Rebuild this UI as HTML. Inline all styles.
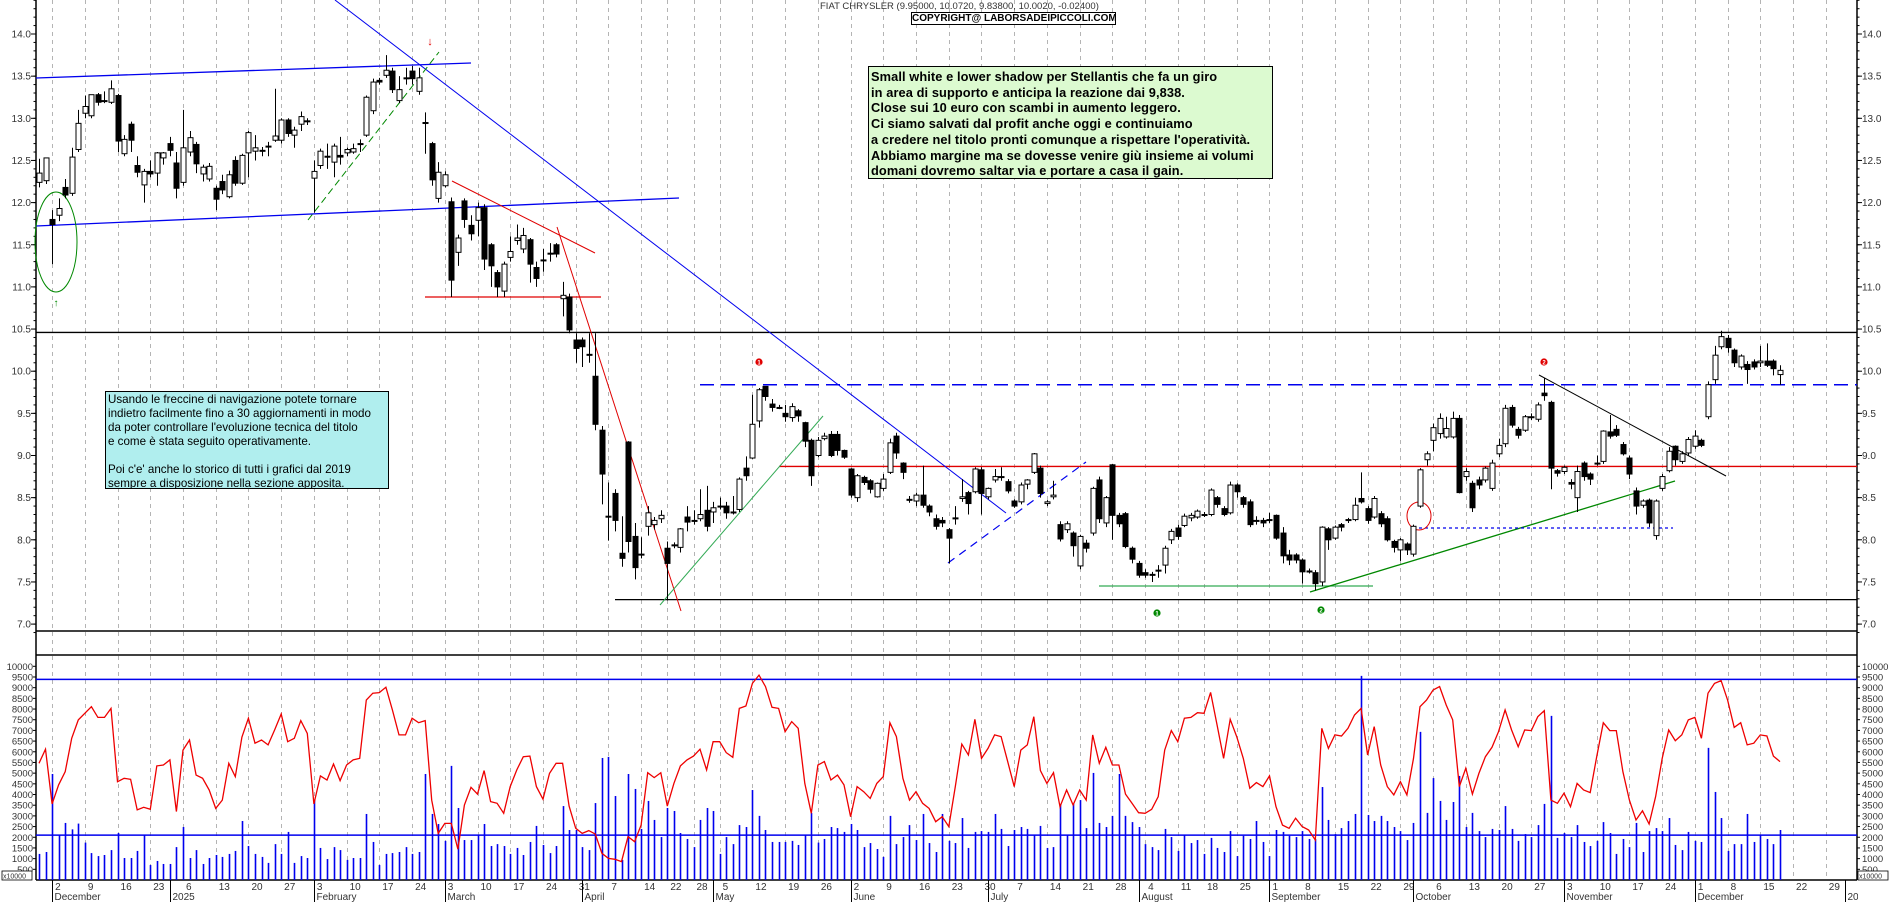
<!DOCTYPE html>
<html><head><meta charset="utf-8"><style>
html,body{margin:0;padding:0;background:#fff;font-family:"Liberation Sans",Arial,sans-serif;}
svg{display:block;font-family:"Liberation Sans",Arial,sans-serif;}
.box{position:absolute;border:1.5px solid #000;font-family:"Liberation Sans",Arial,sans-serif;color:#000;overflow:hidden;box-sizing:border-box;}
</style></head><body>
<div style="position:relative;width:1890px;height:902px;overflow:hidden;font-family:'Liberation Sans',Arial,sans-serif">
<svg id="c" width="1890" height="902" viewBox="0 0 1890 902"></svg>
<div class="box" style="left:868px;top:66px;width:405px;height:113px;background:#dcfad0;font-weight:bold;font-size:12.8px;line-height:15.7px;padding:2px 0 0 2px;white-space:nowrap;letter-spacing:0.1px">Small white e lower shadow per Stellantis che fa un giro<br>in area di supporto e anticipa la reazione dai 9,838.<br>Close sui 10 euro con scambi in aumento leggero.<br>Ci siamo salvati dal profit anche oggi e continuiamo<br>a credere nel titolo pronti comunque a rispettare l'operatività.<br>Abbiamo margine ma se dovesse venire giù insieme ai volumi<br>domani dovremo saltar via e portare a casa il gain.</div>
<div class="box" style="left:105px;top:391px;width:284px;height:98px;background:#b0eeee;font-size:11.6px;line-height:14px;padding:1px 0 0 2px;white-space:nowrap">Usando le freccine di navigazione potete tornare<br>indietro facilmente fino a 30 aggiornamenti in modo<br>da poter controllare l'evoluzione tecnica del titolo<br>e come è stata seguito operativamente.<br><br>Poi c'e' anche lo storico di tutti i grafici dal 2019<br>sempre a disposizione nella sezione apposita.</div>
<div style="position:absolute;left:820px;top:1px;font-size:9.5px;color:#333;white-space:nowrap;font-family:'Liberation Sans',Arial,sans-serif">FIAT CHRYSLER (9.95000, 10.0720, 9.83800, 10.0020, -0.02400)</div>
<div class="box" style="left:911px;top:12px;width:205px;height:13px;border-width:1px;background:#fff;font-size:10px;font-weight:bold;line-height:11px;text-align:center;white-space:nowrap">COPYRIGHT@ LABORSADEIPICCOLI.COM</div>
</div>
<script>
const openP=[12.24,12.26,11.80,11.85,12.18,12.11,12.63,13.06,13.03,13.28,13.21,13.19,13.27,12.58,12.93,12.44,12.21,12.37,12.35,12.53,12.70,12.47,12.24,12.60,12.69,12.34,12.28,12.17,12.25,12.07,12.50,12.23,12.59,12.61,12.62,12.67,12.74,12.74,12.98,12.80,12.93,12.97,12.29,12.44,12.55,12.48,12.56,12.59,12.60,12.70,12.80,13.09,13.45,13.51,13.56,13.21,13.48,13.56,13.32,12.95,12.70,12.05,12.20,12.01,11.41,12.02,11.73,11.79,11.94,11.50,11.17,10.95,11.35,11.55,11.45,11.56,11.23,11.32,11.40,11.50,10.86,10.88,10.37,10.37,10.20,9.94,9.30,8.28,8.55,7.84,9.16,8.04,7.83,8.16,8.18,8.25,7.90,7.94,7.91,8.27,8.23,8.25,8.35,8.33,8.40,8.40,8.33,8.36,8.85,8.97,9.41,9.82,9.61,9.57,9.50,9.45,9.53,9.39,9.18,9.00,9.20,9.25,9.25,9.06,8.84,8.50,8.74,8.70,8.51,8.61,8.80,9.23,8.91,8.48,8.46,8.53,8.40,8.25,8.23,8.12,8.26,8.49,8.56,8.57,8.83,8.51,8.71,8.75,8.69,8.46,8.45,8.66,8.80,8.85,8.43,8.51,8.18,8.12,8.08,7.69,7.96,8.08,8.71,8.20,8.89,8.29,8.31,7.90,7.72,7.61,7.59,7.64,7.70,8.00,8.14,8.17,8.26,8.27,8.30,8.30,8.50,8.37,8.32,8.65,8.50,8.45,8.23,8.23,8.24,8.29,8.08,7.82,7.82,7.76,7.63,7.61,7.50,8.13,8.02,8.18,8.23,8.24,8.49,8.37,8.27,8.31,8.25,7.98,7.88,7.95,7.83,8.40,8.95,9.18,9.26,9.22,9.22,9.44,8.75,8.67,8.71,8.71,8.61,9.02,9.14,9.57,9.31,9.30,9.46,9.43,9.74,9.63,8.82,8.81,8.68,8.50,8.91,8.78,8.90,8.93,9.28,9.31,9.13,8.97,8.58,8.41,8.47,8.05,8.61,8.82,9.11,8.93,9.03,9.11,9.18,9.46,9.90,10.29,10.39,10.25,10.05,10.08,10.11,10.10,10.12,10.12,9.96];
const closeP=[12.35,12.53,11.74,11.93,12.09,12.54,12.94,13.14,13.28,13.19,13.21,13.35,12.73,12.75,12.74,12.36,12.37,12.34,12.59,12.59,12.62,12.17,12.65,12.77,12.46,12.42,12.43,12.04,12.15,12.33,12.23,12.56,12.83,12.65,12.62,12.66,12.79,12.98,12.82,12.86,13.02,12.96,12.37,12.61,12.54,12.67,12.54,12.63,12.64,12.69,13.25,13.43,13.43,13.57,13.34,13.34,13.47,13.47,13.48,12.94,12.27,12.36,12.33,11.08,11.58,11.80,11.63,11.94,11.33,11.25,11.00,11.27,11.42,11.58,11.61,11.27,11.10,11.32,11.40,11.39,10.90,10.49,10.27,10.29,10.20,9.37,8.78,8.28,8.23,7.78,7.98,7.67,7.83,8.32,8.23,8.29,7.72,7.94,8.13,8.21,8.23,8.30,8.16,8.38,8.40,8.32,8.33,8.72,8.76,9.37,9.78,9.70,9.57,9.57,9.46,9.58,9.47,9.17,8.76,9.18,9.23,9.00,9.06,8.98,8.53,8.76,8.68,8.60,8.67,8.72,9.15,9.03,8.80,8.48,8.53,8.41,8.33,8.16,8.20,8.02,8.26,8.51,8.43,8.84,8.55,8.61,8.75,8.75,8.58,8.40,8.65,8.71,9.02,8.55,8.45,8.53,8.01,8.19,7.93,8.04,7.90,8.61,8.25,8.50,8.29,8.19,7.92,7.77,7.58,7.58,7.59,7.64,7.90,8.10,8.04,8.28,8.29,8.34,8.30,8.59,8.42,8.30,8.65,8.57,8.42,8.18,8.23,8.20,8.24,8.02,7.81,7.76,7.76,7.62,7.63,7.48,8.15,8.00,8.15,8.15,8.24,8.41,8.45,8.23,8.49,8.19,8.00,7.91,8.00,7.88,8.16,8.83,9.02,9.33,9.44,9.32,9.44,8.56,8.81,8.38,8.65,8.85,8.91,9.12,9.56,9.36,9.24,9.46,9.46,9.60,9.71,8.85,8.79,8.86,8.66,8.81,8.75,8.72,8.91,9.29,9.23,9.24,9.02,8.78,8.40,8.46,8.20,8.46,8.75,9.05,8.95,9.02,9.19,9.23,9.12,9.84,10.19,10.41,10.28,10.10,10.18,10.02,10.05,10.12,10.07,10.03,10.01];
const highP=[12.52,12.53,11.91,12.05,12.28,12.65,13.10,13.27,13.28,13.30,13.32,13.45,13.29,12.80,12.96,12.55,12.40,12.50,12.60,12.60,12.78,12.60,13.10,12.85,12.72,12.45,12.47,12.20,12.33,12.38,12.55,12.58,12.85,12.80,12.66,12.72,13.35,13.00,13.00,12.90,13.08,13.00,12.50,12.64,12.70,12.70,12.78,12.65,12.70,12.75,13.27,13.47,13.48,13.75,13.60,13.50,13.60,13.62,13.60,13.07,12.72,12.48,12.37,12.06,11.62,12.05,11.85,12.00,11.98,11.52,11.20,11.30,11.60,11.74,11.70,11.58,11.30,11.45,11.52,11.52,11.06,10.92,10.45,10.40,10.45,10.45,9.35,8.68,8.60,8.28,9.17,8.20,8.03,8.40,8.27,8.35,7.98,7.97,8.14,8.40,8.35,8.60,8.64,8.45,8.50,8.45,8.52,8.74,8.99,9.72,9.80,9.82,9.67,9.60,9.60,9.62,9.55,9.40,9.20,9.22,9.27,9.29,9.29,9.07,8.85,8.78,8.76,8.72,8.68,8.78,9.20,9.27,8.92,8.52,8.56,8.88,8.42,8.30,8.27,8.14,8.40,8.72,8.58,8.86,8.86,8.62,8.84,8.86,8.72,8.48,8.68,8.72,9.03,8.88,8.47,8.70,8.22,8.22,8.10,8.06,8.00,8.63,8.75,8.52,8.90,8.32,8.33,7.92,7.75,7.65,7.62,7.70,7.93,8.13,8.18,8.31,8.32,8.36,8.33,8.61,8.52,8.40,8.69,8.67,8.52,8.48,8.28,8.26,8.32,8.30,8.15,7.88,7.84,7.78,7.66,7.64,8.16,8.15,8.17,8.20,8.26,8.50,8.80,8.40,8.52,8.34,8.28,8.00,8.02,7.97,8.18,8.85,9.05,9.38,9.50,9.46,9.52,9.48,8.85,8.70,8.75,8.87,8.95,9.20,9.60,9.60,9.34,9.48,9.50,9.63,9.92,9.65,8.84,8.88,8.72,8.88,8.93,8.80,9.00,9.30,9.48,9.36,9.16,9.00,8.62,8.48,8.49,8.48,8.78,9.10,9.12,9.05,9.22,9.30,9.20,9.88,10.30,10.48,10.43,10.27,10.20,10.12,10.14,10.30,10.33,10.14,10.07];
const lowP=[12.18,12.22,11.27,11.78,12.05,12.08,12.60,13.00,13.00,13.15,13.18,13.17,12.60,12.55,12.60,12.30,12.00,12.30,12.20,12.45,12.55,12.05,12.20,12.55,12.35,12.25,12.25,11.91,12.10,12.05,12.20,12.21,12.30,12.50,12.55,12.55,12.72,12.70,12.78,12.65,12.85,12.92,11.88,12.40,12.40,12.30,12.45,12.55,12.58,12.60,12.78,13.05,13.40,13.48,13.30,13.18,13.40,13.40,13.28,12.58,12.20,12.00,12.18,10.88,11.25,11.70,11.55,11.60,11.20,11.00,10.88,10.88,11.30,11.50,11.40,11.05,11.00,11.18,11.30,11.35,10.65,10.45,10.10,10.05,10.10,9.30,8.42,7.99,8.10,7.68,7.85,7.53,7.78,8.05,8.12,8.20,7.28,7.90,7.85,8.10,8.18,8.22,8.10,8.20,8.36,8.25,8.30,8.33,8.70,8.96,9.33,9.65,9.52,9.55,9.40,9.40,9.40,9.10,8.64,8.98,9.18,8.98,9.00,8.96,8.50,8.45,8.65,8.55,8.50,8.58,8.78,8.96,8.72,8.44,8.40,8.38,8.28,8.12,8.15,7.72,8.18,8.45,8.30,8.55,8.30,8.48,8.68,8.70,8.55,8.38,8.42,8.60,8.78,8.50,8.40,8.48,7.98,8.08,7.80,7.65,7.85,8.05,8.20,8.15,8.00,8.15,7.90,7.72,7.55,7.55,7.50,7.55,7.60,7.95,8.00,8.15,8.22,8.25,8.27,8.28,8.38,8.28,8.30,8.50,8.38,8.15,8.18,8.15,8.20,8.00,7.72,7.70,7.72,7.48,7.60,7.40,7.45,7.88,8.00,8.10,8.20,8.22,8.43,8.19,8.25,8.15,7.98,7.85,7.75,7.82,7.80,8.38,8.88,9.05,9.20,9.20,9.20,8.55,8.70,8.33,8.60,8.68,8.58,8.98,9.10,9.33,9.20,9.28,9.42,9.40,9.65,8.60,8.75,8.78,8.60,8.33,8.70,8.65,8.88,8.90,9.20,9.22,9.00,8.72,8.30,8.38,8.15,8.00,8.58,8.80,8.88,8.90,9.00,9.08,9.10,9.43,9.85,10.26,10.22,10.05,10.02,9.85,10.02,10.05,10.05,9.95,9.84];
const volume=[1220,1310,4960,2090,2670,2370,2640,1750,1260,1120,1170,1400,2200,1030,1030,1360,2090,700,890,750,750,1540,2480,1030,1400,750,1030,1170,1080,1220,1360,2760,1590,1220,1080,800,1680,1220,2250,800,1120,1030,3740,1500,980,1540,1400,940,1030,1030,3090,1780,700,1220,1260,1310,1540,1220,1310,4960,3090,2620,1830,5340,3370,1870,1870,2110,2620,1590,1680,1590,1220,1500,1170,1780,2530,1640,1260,1590,3460,2340,2340,1540,1400,3600,5710,5760,3930,940,4960,4260,2390,3700,2810,2010,3370,3230,2200,1920,1540,2810,3370,3230,1220,2010,1680,2570,2480,4210,3000,2340,1780,1780,1780,1830,1640,2110,3140,1750,1920,2480,2430,2250,2620,2340,1540,1730,1450,1080,3000,1680,2010,2570,1870,3090,1730,1310,3090,1830,1730,2900,1500,2250,2290,2250,3090,2390,1590,2340,2480,2390,2110,2530,1500,1540,3560,2110,3560,3740,2430,5010,2670,2480,3000,4960,3000,2710,2480,1680,1540,1400,2390,2010,1360,2110,1730,1870,1220,1970,1500,1310,2290,1120,2070,1920,2760,1780,1120,2340,2250,2070,2010,2290,1920,1920,4350,2810,2150,2430,2760,3090,9550,3040,2760,3000,2760,2480,2290,1870,2670,6930,3140,4770,3700,2810,3650,4870,2480,3140,2290,2010,2390,2340,3460,2390,1830,2150,2010,2570,3560,7680,1970,2200,2010,2570,1780,1590,1830,2710,2200,1220,1920,1540,2670,1310,2290,2430,2290,2900,1640,1400,2250,1830,1780,6180,4120,2900,1360,1680,1680,3090,1780,2110,1920,1680,2340];
const oscillator=[5460,6120,3560,4450,5070,6630,7490,7800,8110,7610,7610,8030,4600,4760,4710,3280,3400,3310,5340,5380,5620,3200,6080,6550,4910,4760,4210,3350,3740,5460,4840,6680,7570,6400,6550,6320,7020,7770,6470,6630,7460,6860,3560,4870,4680,5430,4650,5380,5620,5690,8420,8740,8770,9020,7960,6790,6790,7570,7360,7460,3740,2180,2650,2650,1440,3510,4340,4020,5120,3670,3590,3120,4370,5150,5770,5800,4370,3780,4990,5460,5460,3460,2420,2180,2310,2150,1250,1010,970,860,2030,1790,2570,5020,4790,5020,3460,4520,5340,5620,5800,6120,5150,6470,6470,5960,5740,8030,8140,9200,9590,9050,8080,8030,6940,7410,7100,4520,3120,5380,5540,4680,4910,4450,2960,4370,4130,3820,4520,4840,7360,6710,4760,3740,4130,3590,3350,2730,2960,2500,4370,6360,5850,7520,5690,6160,6790,6710,5540,4370,6080,6320,7640,5120,4520,5020,3430,4210,3510,4210,3740,6790,5460,6210,5380,5380,4020,3590,3150,3120,3310,3900,6080,6990,6470,7570,7610,7830,7800,8780,7250,5690,7520,6710,5690,4290,4560,4370,4870,3430,2570,2420,2890,2500,2340,1870,7100,6160,6790,6740,7100,7720,8030,5850,7180,5380,4370,3980,4600,3980,5690,8110,8420,8890,9050,8190,7490,4370,5230,4020,4990,5770,6210,6940,7960,7020,6240,7020,6990,7640,7920,3740,3590,4060,3430,4520,4210,4090,5770,7360,6990,6990,5070,3740,2810,3240,2620,3900,5690,7020,6520,6790,7490,7610,6630,8740,9200,9330,8420,7140,7360,6320,6400,6790,6740,5800,5540];
const priceTicks=[14.0,13.5,13.0,12.5,12.0,11.5,11.0,10.5,10.0,9.5,9.0,8.5,8.0,7.5,7.0];
const volTicks=[10000,9500,9000,8500,8000,7500,7000,6500,6000,5500,5000,4500,4000,3500,3000,2500,2000,1500,1000,500];
const weekIdx=[2,7,12,17,22,27,32,37,42,47,52,57,62,67,72,77,82,87,92,96,100,104,109,114,119,124,129,134,139,144,149,154,159,164,169,174,178,183,188,193,198,203,208,213,218,223,228,233,238,243,248,253,258,263,268,273];
const weekLabels=["2","9","16","23","6","13","20","27","3","10","17","24","3","10","17","24","31","7","14","22","28","5","12","19","26","2","9","16","23","30","7","14","21","28","4","11","18","25","1","8","15","22","29","6","13","20","27","3","10","17","24","1","8","15","22","29"];
const monthIdx=[2,20,42,62,83,103,124,145,168,188,210,233,253,276];
const monthLabels=["December","2025","February","March","April","May","June","July","August","September","October","November","December","20"];

const NS="http://www.w3.org/2000/svg";
const svg=document.getElementById('c');
const L=36,R=1857,STEP=6.545,X0=39;
const xs=i=>X0+i*STEP;
const yp=p=>34+(14-p)*84.3;
const yv=v=>880-v*0.02137;
function mk(tag,attrs,parent){const e=document.createElementNS(NS,tag);for(const k in attrs)e.setAttribute(k,attrs[k]);(parent||svg).appendChild(e);return e;}
function txt(s,x,y,attrs){const t=mk('text',Object.assign({x:x,y:y,'font-size':10,fill:'#333'},attrs||{}));t.textContent=s;return t;}

const grid=mk('g',{});


weekIdx.forEach(i=>{const x=Math.round(xs(i))+0.5;
  const l=mk('line',{x1:x,y1:0,x2:x,y2:880,stroke:'#b4b4b4','stroke-dasharray':'4,4','stroke-width':1},grid);
  
  });

mk('line',{x1:L,y1:0,x2:L,y2:880,stroke:'#000','stroke-width':1.5});
mk('line',{x1:R,y1:0,x2:R,y2:880,stroke:'#000','stroke-width':1.5});
mk('line',{x1:L,y1:631,x2:R,y2:631,stroke:'#000','stroke-width':1.5});
mk('line',{x1:L,y1:655,x2:R,y2:655,stroke:'#000','stroke-width':1.5});
mk('line',{x1:L,y1:880,x2:R,y2:880,stroke:'#000','stroke-width':1.5});

priceTicks.forEach(p=>{const y=yp(p);
  const a=txt(p.toFixed(1),31,y+3.5,{'text-anchor':'end'});
  const b=txt(p.toFixed(1),1862,y+3.5);
  mk('line',{x1:L-5,y1:y,x2:L,y2:y,stroke:'#000'});mk('line',{x1:R,y1:y,x2:R+5,y2:y,stroke:'#000'});});
for(let p=6.9;p<=14.4;p+=0.1){const y=yp(p);mk('line',{x1:L-2.5,y1:y,x2:L,y2:y,stroke:'#000'});mk('line',{x1:R,y1:y,x2:R+2.5,y2:y,stroke:'#000'});}
volTicks.forEach(v=>{const y=yv(v);
  const a=txt(String(v),33,y+3.5,{'text-anchor':'end','font-size':9.5});
  const b=txt(String(v),1862,y+3.5,{'font-size':9.5});
  mk('line',{x1:L-3,y1:y,x2:L,y2:y,stroke:'#000'});mk('line',{x1:R,y1:y,x2:R+3,y2:y,stroke:'#000'});});
mk('rect',{x:2,y:871,width:30,height:9,fill:'#fff',stroke:'#000','stroke-width':0.8});
txt('x10000',3,878.5,{'font-size':7});
mk('rect',{x:1858,y:871,width:30,height:9,fill:'#fff',stroke:'#000','stroke-width':0.8});
txt('x10000',1859,878.5,{'font-size':7});

weekIdx.forEach((i,k)=>{const t=txt(weekLabels[k],xs(i)+3,890,{'font-size':10});
  
  });
monthIdx.forEach((i,k)=>{const x=Math.round(xs(i))+0.5;
  mk('line',{x1:x,y1:880,x2:x,y2:902,stroke:'#000'});
  const t=txt(monthLabels[k],x+2,900,{'font-size':10});
  
  });
mk('rect',{x:R+1,y:881,width:33,height:21,fill:'#fff'});

function ln(x1,y1,x2,y2,col,w,dash,name){const l=mk('line',{x1:x1,y1:y1,x2:x2,y2:y2,stroke:col,'stroke-width':w||1});if(dash)l.setAttribute('stroke-dasharray',dash);return l;}
ln(L,yp(10.46),R,yp(10.46),'#000',1.3,null,'resistance-line');
ln(615,yp(7.29),R,yp(7.29),'#000',1.3,null,'support-line');
ln(779,yp(8.87),R,yp(8.87),'#e00000',1.3,null,'red-level-line');
ln(700,yp(9.84),R,yp(9.84),'#0000ee',1.5,'14,7','blue-dashed-level');
ln(36,78,471,63,'#0000ee',1.3,null,'channel-upper');
ln(36,226,679,198,'#0000ee',1.3,null,'channel-lower');
ln(335,0,1006,513,'#0000ee',1,null,'downtrend-line');
ln(948,563,1086,462,'#0000ee',1.2,'8,6','blue-dashed-uptrend');
ln(308,220,439,52,'#008800',1,'7,4','green-dashed-uptrend');
ln(452,181,595,253,'#e00000',1,null,'red-downtrend');
ln(557,227,681,611,'#e00000',1,null,'red-steep-trend');
ln(425,297,601,297,'#e00000',1.3,null,'red-support');
ln(660,605,823,416,'#33aa55',1,null,'green-rebound-line');
ln(1099,586,1373,586,'#33aa55',1.3,null,'green-base-line');
ln(1310,592,1675,481,'#008800',1.3,null,'green-uptrend');
ln(1419,528,1673,528,'#0000ee',1.3,'3,3','blue-dotted-level');
ln(1539,375,1726,476,'#000',1,null,'black-downtrend');
const el1=mk('ellipse',{cx:56,cy:242,rx:21,ry:50,fill:'none',stroke:'#008800','stroke-width':1});

const el2=mk('ellipse',{cx:1419,cy:516,rx:12,ry:14,fill:'none',stroke:'#e00000','stroke-width':1});

txt('↓',430,45,{'font-size':11,fill:'#e00000','font-weight':'bold','text-anchor':'middle'});
txt('↑',56,306,{'font-size':10,fill:'#008800','font-weight':'bold','text-anchor':'middle'});
[[759,362,'#e00000','1','red-marker-1'],[1544,362,'#e00000','2','red-marker-2'],[1157,613,'#008800','1','green-marker-1'],[1321,610,'#008800','2','green-marker-2']].forEach(m=>{
  const c=mk('circle',{cx:m[0],cy:m[1],r:3.6,fill:m[2]});
  txt(m[3],m[0],m[1]+2.5,{'font-size':6,fill:'#fff','text-anchor':'middle','font-weight':'bold'});});

const cg=mk('g',{});


closeP.forEach((c,i)=>{const o=openP[i],x=Math.round(xs(i))+0.5;
  const w=mk('line',{x1:x,y1:yp(highP[i]),x2:x,y2:yp(lowP[i]),stroke:'#000','stroke-width':1},cg);
  
  const top=yp(Math.max(o,c)),bot=yp(Math.min(o,c));
  const b=mk('rect',{x:x-2.5,y:top,width:5,height:Math.max(1,bot-top),fill:c<o?'#000':'#fff',stroke:'#000','stroke-width':1},cg);
  
  });

const vg=mk('g',{});


volume.forEach((v,i)=>{const x=Math.round(xs(i))+0.5;
  const b=mk('line',{x1:x,y1:880,x2:x,y2:yv(v),stroke:'#0000ee','stroke-width':1.6},vg);
  });
ln(L,yv(9390),R,yv(9390),'#0000ee',1.5,null,'volume-upper-band');
ln(L,yv(2100),R,yv(2100),'#0000ee',1.5,null,'volume-lower-band');
const pts=oscillator.map((v,i)=>xs(i).toFixed(1)+','+yv(v).toFixed(1)).join(' ');
const pl=mk('polyline',{points:pts,fill:'none',stroke:'#ee0000','stroke-width':1.3});


</script>
</body></html>
